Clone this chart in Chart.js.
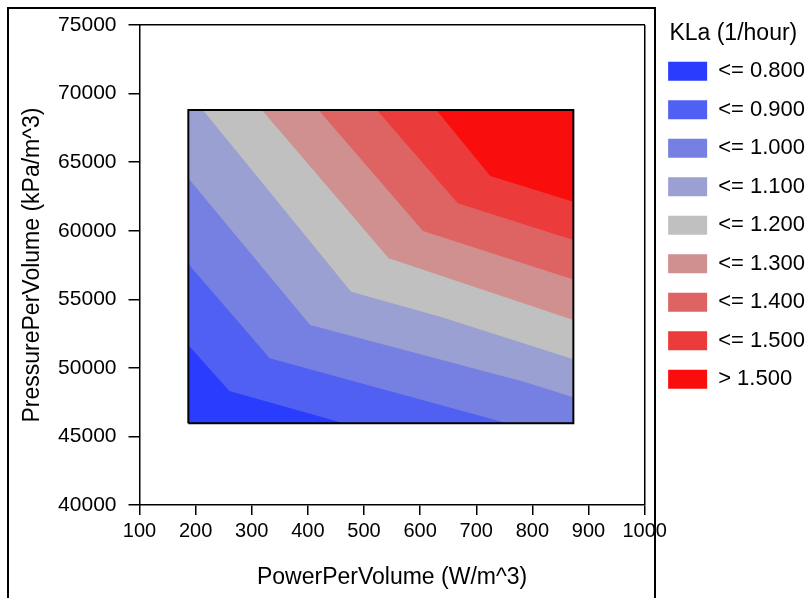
<!DOCTYPE html>
<html>
<head>
<meta charset="utf-8">
<script src="https://cdn.jsdelivr.net/npm/chart.js@4.4.1/dist/chart.umd.min.js"></script>
<style>
  html, body { margin: 0; padding: 0; background: #fff; }
  #wrap { position: relative; width: 812px; height: 598px; overflow: hidden; }
  #frame { position: absolute; left: 7px; top: 7px; width: 649px; height: 700px; box-sizing: border-box;
           border: 2px solid #000; border-bottom: none; pointer-events: none; }
</style>
</head>
<body>
<div id="wrap">
  <canvas id="contourChart" width="812" height="598"></canvas>
  <div id="frame"></div>
</div>
<script>
// extent of the sampled grid
var xEdges = [187, 873];      // W/m^3
var yEdges = [45960, 68800];  // kPa/m^3

// contour lines (x, y), one per level
var contour080 = [[187, 51670], [260, 48310], [464, 45960]];
var contour090 = [[187, 57570], [332, 50700], [755, 45960]];
var contour100 = [[187, 63820], [404, 53120], [785, 48990], [873, 47850]];
var contour110 = [[213, 68800], [477, 55550], [636, 53730], [873, 50620]];
var contour120 = [[318, 68800], [544, 57990], [873, 53490]];
var contour130 = [[419, 68800], [605, 59980], [873, 56440]];
var contour140 = [[523, 68800], [667, 62000], [873, 59320]];
var contour150 = [[629, 68800], [725, 63990], [873, 62120]];

var bandLabels = ['<= 0.800', '<= 0.900', '<= 1.000', '<= 1.100', '<= 1.200',
                  '<= 1.300', '<= 1.400', '<= 1.500', '> 1.500'];
var bandColors = ['#2a3dff', '#5060f2', '#767fe2', '#9aa0d2', '#c0c0c0',
                  '#d09090', '#de6363', '#eb3b3b', '#fa0d0d'];

var X0 = xEdges[0], X1 = xEdges[1], Y0 = yEdges[0], Y1 = yEdges[1];

// area above a contour line, closed round the upper right corner
function regionAbove(line) {
    var pts = [];
    var first = line[0], last = line[line.length - 1];
    if (first[0] === X0) pts.push([X0, Y1]);
    line.forEach(function (p) { pts.push(p); });
    if (last[1] === Y0) pts.push([X1, Y0]);
    pts.push([X1, Y1]);
    return pts;
}

function toXY(pts) {
    return pts.map(function (p) { return {x: p[0], y: p[1]}; });
}

var wholeGrid = [[X0, Y1], [X0, Y0], [X1, Y0], [X1, Y1]];
var contours = [contour080, contour090, contour100, contour110,
                contour120, contour130, contour140, contour150];
var regions = [wholeGrid].concat(contours.map(regionAbove));

var bandSets = regions.map(function (pts, k) {
    return {
        label: bandLabels[k],
        data: toXY(pts),
        backgroundColor: bandColors[k],
        borderColor: 'rgba(0,0,0,0)',
        borderWidth: 0,
        fill: 'shape',
        pointRadius: 0,
        tension: 0
    };
}).reverse();   // highest band drawn last

var edgeSet = {
    label: 'edge',
    data: toXY([[X0, Y0], [X0, Y1], [X1, Y1], [X1, Y0], [X0, Y0]]),
    borderColor: '#000',
    borderWidth: 2,
    fill: false,
    pointRadius: 0,
    tension: 0
};

Chart.defaults.font.family = '"Liberation Sans", Arial, sans-serif';
Chart.defaults.color = '#000';

var clear = 'rgba(0,0,0,0)';

var ctx = document.getElementById('contourChart').getContext('2d');
var contourChart = new Chart(ctx, {
    type: 'line',
    data: {
        datasets: [edgeSet].concat(bandSets)
    },
    options: {
        responsive: false,
        animation: false,
        devicePixelRatio: 1,
        layout: { padding: { top: 0, left: 0, bottom: 0, right: -3 } },
        plugins: {
            tooltip: { enabled: false },
            legend: {
                position: 'right',
                align: 'start',
                reverse: true,
                title: {
                    display: true,
                    text: 'KLa (1/hour)',
                    position: 'center',
                    color: '#000',
                    font: { size: 23, lineHeight: 0.92 },
                    padding: { top: 22.5, bottom: 0 }
                },
                labels: {
                    boxWidth: 39,
                    boxHeight: 19,
                    padding: 16.5,
                    color: '#000',
                    font: { size: 22 },
                    filter: function (item) { return item.text !== 'edge'; }
                }
            }
        },
        scales: {
            x: {
                type: 'linear',
                position: 'bottom',
                min: 100,
                max: 1000,
                ticks: { stepSize: 100, autoSkip: false, maxRotation: 0, padding: 4,
                         color: '#000', font: { size: 20 },
                         callback: function (v) { return String(v); } },
                grid: { display: true, drawOnChartArea: true, drawTicks: true, tickLength: 10,
                        color: function (c) { return c.tick && c.tick.value === 1000 ? '#000' : clear; },
                        tickColor: '#000', lineWidth: 1.5 },
                border: { display: true, color: '#000', width: 1.5 },
                title: { display: true, text: 'PowerPerVolume (W/m^3)', color: '#000',
                         font: { size: 23 }, padding: { top: 0, bottom: 7 } },
                afterFit: function (s) { s.height = 93; s.paddingLeft = 0; s.paddingRight = 0; }
            },
            y: {
                type: 'linear',
                position: 'left',
                min: 40000,
                max: 75000,
                ticks: { stepSize: 5000, padding: 12, color: '#000', font: { size: 21 },
                         callback: function (v) { return String(v); } },
                grid: { display: true, drawOnChartArea: false, drawTicks: true, tickLength: 11,
                        color: '#000', lineWidth: 1.5 },
                border: { display: true, color: '#000', width: 1.5 },
                title: { display: true, text: 'PressurePerVolume (kPa/m^3)', color: '#000',
                         font: { size: 23 }, padding: { top: 19, bottom: 0 } },
                afterFit: function (s) { s.width = 139.5; s.paddingTop = 0; s.paddingBottom = 0; }
            },
            x2: {
                type: 'linear',
                position: 'top',
                ticks: { display: false },
                grid: { display: false },
                border: { display: true, color: '#000', width: 1.5 },
                afterFit: function (s) { s.height = 25; }
            },
            y2: {
                type: 'linear',
                position: 'right',
                display: false,
                afterFit: function (s) { s.width = 7; }
            }
        }
    }
});
</script>
</body>
</html>
